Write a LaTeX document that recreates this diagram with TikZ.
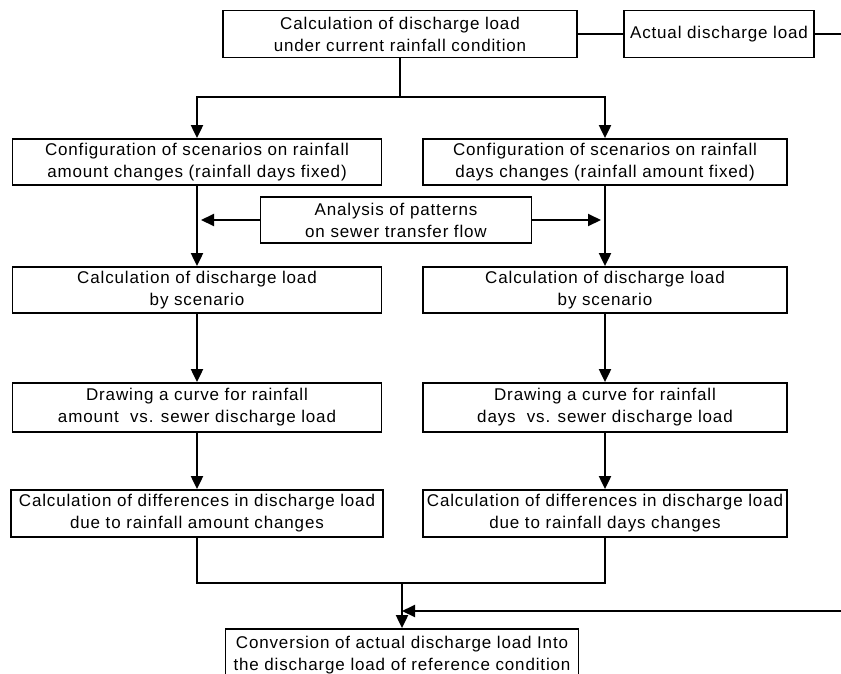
\documentclass[tikz,border=0pt]{standalone}
\usepackage{fontspec}
\setmainfont{Liberation Sans}[LetterSpace=5]
\usetikzlibrary{arrows.meta}
\begin{document}
\begin{tikzpicture}[x=1pt,y=-1pt,
  box/.style={draw,line width=1.8pt,rectangle,inner sep=0pt,align=center,
    font=\fontsize{17}{22}\selectfont},
  ln/.style={line width=2pt},
  arr/.style={line width=2pt,-{Triangle[length=13pt,width=12pt]}}]
\useasboundingbox (0,0) rectangle (841,673);
\clip (0,0) rectangle (841,673);
\node[box,minimum width=354pt,minimum height=47pt] (top) at (400,34)
  {Calculation of discharge load\\under current rainfall condition};
\node[box,minimum width=190pt,minimum height=47pt] (act) at (719,34)
  {Actual discharge load};
\node[box,minimum width=369pt,minimum height=46pt] (cfgL) at (197,162)
  {Configuration of scenarios on rainfall\\amount changes (rainfall days fixed)};
\node[box,minimum width=364pt,minimum height=46pt] (cfgR) at (605,162)
  {Configuration of scenarios on rainfall\\days changes (rainfall amount fixed)};
\node[box,minimum width=271pt,minimum height=46pt] (ana) at (396,220)
  {Analysis of patterns\\on sewer transfer flow};
\node[box,minimum width=369pt,minimum height=46pt] (calL) at (197,290)
  {Calculation of discharge load\\by scenario};
\node[box,minimum width=364pt,minimum height=46pt] (calR) at (605,290)
  {Calculation of discharge load\\by scenario};
\node[box,minimum width=369pt,minimum height=49pt] (drwL) at (197,407.5)
  {Drawing a curve for rainfall\\amount\ \ vs. sewer discharge load};
\node[box,minimum width=364pt,minimum height=49pt] (drwR) at (605,407.5)
  {Drawing a curve for rainfall\\days\ \ vs. sewer discharge load};
\node[box,minimum width=372pt,minimum height=47pt] (difL) at (197,513.5)
  {Calculation of differences in discharge load\\due to rainfall amount changes};
\node[box,minimum width=364pt,minimum height=47pt] (difR) at (605,513.5)
  {Calculation of differences in discharge load\\due to rainfall days changes};
\node[box,minimum width=353pt,minimum height=52pt] (bot) at (402,655)
  {Conversion of actual discharge load Into\\the discharge load of reference condition};
% connectors
\coordinate (j) at (400,97);
\draw[ln] (top.south) -- (j);
\draw[arr] (j) -| (cfgL.north);
\draw[arr] (j) -| (cfgR.north);
\draw[ln] (top.east) -- (act.west);
\coordinate (e1) at (841,34);
\draw[ln] (act.east) -- (e1);
\draw[arr,shorten >=4pt] (ana.west) -- (ana.west -| cfgL.south);
\draw[arr,shorten >=4pt] (ana.east) -- (ana.east -| cfgR.south);
\draw[arr] (cfgL) -- (calL);
\draw[arr] (cfgR) -- (calR);
\draw[arr] (calL) -- (drwL);
\draw[arr] (calR) -- (drwR);
\draw[arr] (drwL) -- (difL);
\draw[arr] (drwR) -- (difR);
\coordinate (m) at (402,583);
\draw[ln] (difL.south) |- (m) -| (difR.south);
\draw[arr] (m) -- (bot.north);
\coordinate (e2) at (841,611);
\draw[arr] (e2) -- (e2 -| m);
\end{tikzpicture}
\end{document}
